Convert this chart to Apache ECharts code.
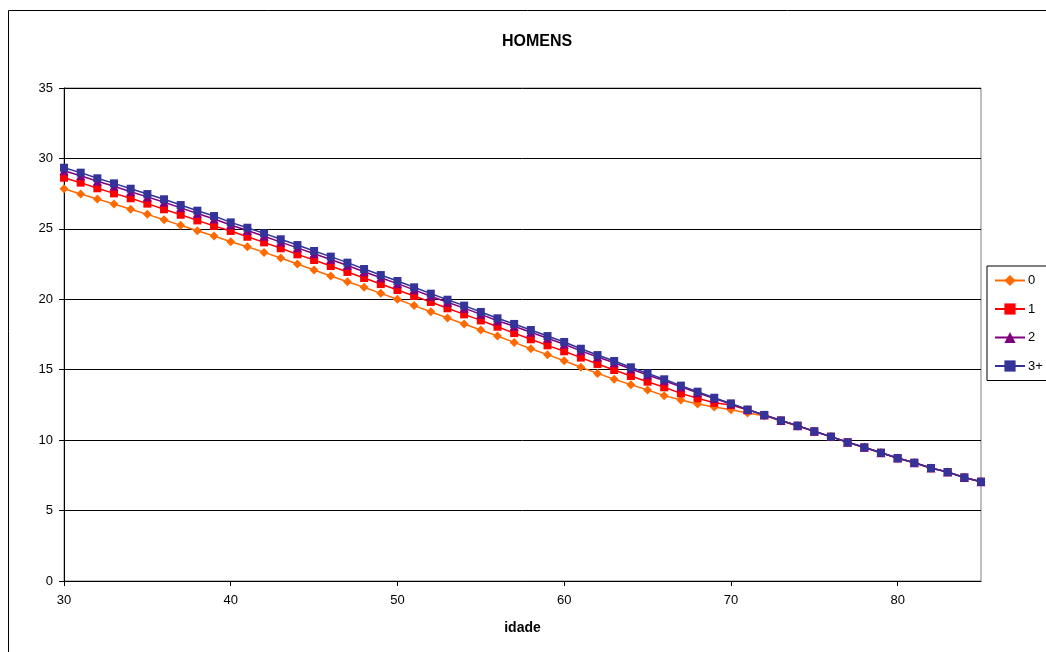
<!DOCTYPE html>
<html>
<head>
<meta charset="utf-8">
<title>HOMENS</title>
<script src="https://cdn.jsdelivr.net/npm/echarts/dist/echarts.min.js"></script>
<style>
  html, body { margin: 0; padding: 0; background: #fff; }
  #chart { width: 1046px; height: 652px; }
</style>
</head>
<body>
<div id="chart"></div>
<script>
// Ages on the horizontal axis (30 .. 85)
const ages = [30,31,32,33,34,35,36,37,38,39,40,41,42,43,44,45,46,47,48,49,
              50,51,52,53,54,55,56,57,58,59,60,61,62,63,64,65,66,67,68,69,
              70,71,72,73,74,75,76,77,78,79,80,81,82,83,84,85];

const seriesNames = ['0', '1', '2', '3+'];

const values0 = [27.85,27.47,27.12,26.76,26.39,26.03,25.65,25.25,24.87,24.49,
                 24.09,23.73,23.33,22.93,22.50,22.08,21.65,21.25,20.85,20.42,
                 20.00,19.55,19.12,18.67,18.25,17.82,17.39,16.94,16.49,16.07,
                 15.64,15.17,14.74,14.32,13.94,13.56,13.16,12.85,12.57,12.36,
                 12.15,11.92,11.74,11.36,11.00,10.61,10.23,9.84,9.47,9.10,
                 8.72,8.39,8.01,7.73,7.35,7.05];

const values1 = [28.63,28.28,27.88,27.52,27.17,26.79,26.39,26.00,25.60,25.20,
                 24.85,24.44,24.04,23.62,23.19,22.79,22.36,21.94,21.51,21.08,
                 20.66,20.23,19.81,19.36,18.93,18.50,18.05,17.60,17.16,16.73,
                 16.31,15.86,15.41,14.98,14.55,14.15,13.75,13.32,12.97,12.65,
                 12.50,12.15,11.78,11.39,11.02,10.62,10.24,9.85,9.48,9.10,
                 8.72,8.39,8.02,7.73,7.35,7.05];

const values2 = [29.12,28.77,28.38,28.02,27.64,27.27,26.89,26.49,26.09,25.70,
                 25.27,24.88,24.48,24.06,23.65,23.23,22.83,22.40,21.96,21.53,
                 21.11,20.67,20.22,19.79,19.37,18.93,18.48,18.08,17.66,17.23,
                 16.81,16.34,15.90,15.49,15.05,14.63,14.22,13.78,13.36,12.95,
                 12.57,12.16,11.79,11.40,11.03,10.63,10.25,9.85,9.49,9.11,
                 8.73,8.40,8.02,7.74,7.35,7.05];

const values3 = [29.34,28.99,28.59,28.23,27.85,27.47,27.10,26.69,26.29,25.91,
                 25.46,25.08,24.68,24.26,23.85,23.43,23.03,22.60,22.15,21.72,
                 21.30,20.85,20.40,19.97,19.55,19.10,18.65,18.25,17.82,17.39,
                 16.97,16.49,16.04,15.62,15.17,14.74,14.32,13.87,13.44,13.01,
                 12.61,12.17,11.79,11.40,11.03,10.63,10.25,9.85,9.49,9.11,
                 8.73,8.40,8.02,7.74,7.35,7.05];

const allValues = [values0, values1, values2, values3];
const colors = ['#FF6A00', '#FF0000', '#800080', '#333399'];
const symbols = ['diamond', 'rect', 'triangle', 'rect'];
const symbolSizes = [9, 8, 9, 8];

const FONT = '"Liberation Sans", Arial, sans-serif';

const chart = echarts.init(document.getElementById('chart'), null, { renderer: 'canvas' });

const series = seriesNames.map((name, i) => ({
  name: name,
  type: 'line',
  data: ages.map((a, k) => [a, allValues[i][k]]),
  symbol: symbols[i],
  symbolSize: symbolSizes[i],
  showAllSymbol: true,
  animation: false,
  lineStyle: { color: colors[i], width: 1.5 },
  itemStyle: { color: colors[i], borderColor: colors[i], borderWidth: 0 },
  emphasis: { disabled: true },
  z: 2 + i
}));

chart.setOption({
  backgroundColor: '#ffffff',
  animation: false,
  title: {
    text: 'HOMENS',
    left: 532,
    textAlign: 'center',
    top: 29,
    textStyle: { fontFamily: FONT, fontSize: 16, fontWeight: 'bold', color: '#000' }
  },
  graphic: [{
    type: 'rect',
    shape: { x: 8.5, y: 10.5, width: 1100, height: 700 },
    style: { fill: null, stroke: '#000', lineWidth: 1 },
    silent: true,
    z: -10
  }],
  legend: {
    orient: 'vertical',
    left: 987,
    top: 266,
    padding: [8, 6, 8, 7],
    itemWidth: 30,
    itemHeight: 14,
    itemGap: 15.5,
    borderColor: '#000',
    borderWidth: 1,
    backgroundColor: '#fff',
    selectedMode: false,
    textStyle: { fontFamily: FONT, fontSize: 13, color: '#000', padding: [0, 0, 0, -2] },
    data: seriesNames
  },
  grid: {
    left: 64,
    right: 65,
    top: 88,
    bottom: 71,
    show: true,
    borderColor: '#808080',
    borderWidth: 1,
    backgroundColor: 'transparent'
  },
  xAxis: {
    type: 'value',
    min: 30,
    max: 85,
    interval: 10,
    name: 'idade',
    nameLocation: 'middle',
    nameGap: 40,
    nameTextStyle: { fontFamily: FONT, fontSize: 14, fontWeight: 'bold', color: '#000' },
    axisLine: { show: true, lineStyle: { color: '#000', width: 1 } },
    axisTick: { show: true, length: 5, lineStyle: { color: '#000' } },
    axisLabel: { fontFamily: FONT, fontSize: 13, color: '#000', margin: 13, showMaxLabel: false },
    splitLine: { show: false }
  },
  yAxis: {
    type: 'value',
    min: 0,
    max: 35,
    interval: 5,
    axisLine: { show: true, lineStyle: { color: '#000', width: 1 } },
    axisTick: { show: true, length: 5, lineStyle: { color: '#000' } },
    axisLabel: { fontFamily: FONT, fontSize: 13, color: '#000', margin: 11 },
    splitLine: { show: true, lineStyle: { color: '#000', width: 1 } }
  },
  series: series
});
</script>
</body>
</html>
